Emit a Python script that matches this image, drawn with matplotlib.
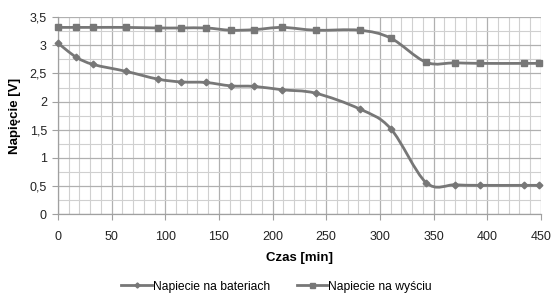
import matplotlib
matplotlib.use("Agg")
import matplotlib.pyplot as plt
import numpy as np
from matplotlib.path import Path
from matplotlib.patches import PathPatch
from matplotlib.lines import Line2D

plt.rcParams['font.family'] = ['Liberation Sans', 'DejaVu Sans']

time_min = [0, 17, 33, 63, 93, 115, 138, 161, 183, 209, 240, 281, 310, 343, 370, 393, 434, 448]
v_battery = [3.04, 2.79, 2.66, 2.54, 2.40, 2.35, 2.34, 2.28, 2.27, 2.21, 2.15, 1.87, 1.52, 0.56, 0.52, 0.51, 0.51, 0.51]
v_output = [3.32, 3.32, 3.32, 3.32, 3.31, 3.31, 3.31, 3.27, 3.28, 3.32, 3.27, 3.27, 3.13, 2.70, 2.69, 2.68, 2.68, 2.68]
series_names = ["Napiecie na bateriach", "Napiecie na wyściu"]
x_ticks = [0, 50, 100, 150, 200, 250, 300, 350, 400, 450]
y_ticks = [0, 0.5, 1, 1.5, 2, 2.5, 3, 3.5]
y_tick_labels = ["0", "0,5", "1", "1,5", "2", "2,5", "3", "3,5"]
x_label = "Czas [min]"
y_label = "Napięcie [V]"

COLOR = "#777777"

fig = plt.figure(figsize=(5.53, 2.93), dpi=100)
ax = fig.add_axes([0.1049, 0.2696, 0.978 - 0.1049, 0.941 - 0.2696])


def smooth_path(xs, ys):
    pts = np.column_stack([xs, ys]).astype(float)
    n = len(pts)
    verts = [pts[0]]
    codes = [Path.MOVETO]
    for i in range(n - 1):
        p0 = pts[i - 1] if i > 0 else pts[i]
        p1 = pts[i]
        p2 = pts[i + 1]
        p3 = pts[i + 2] if i + 2 < n else pts[i + 1]
        c1 = p1 + (p2 - p0) / 6.0
        c2 = p2 - (p3 - p1) / 6.0
        verts += [c1, c2, p2]
        codes += [Path.CURVE4] * 3
    return Path(verts, codes)


for ys, marker, ms in [(v_battery, 'D', 3.4), (v_output, 's', 5.0)]:
    patch = PathPatch(smooth_path(time_min, ys), facecolor='none', edgecolor=COLOR,
                      linewidth=2.0, zorder=3, capstyle='round', joinstyle='round')
    ax.add_patch(patch)
    ax.plot(time_min, ys, linestyle='none', marker=marker, markersize=ms,
            color=COLOR, zorder=4, clip_on=False)

ax.set_xlim(0, 450)
ax.set_ylim(0, 3.5)
ax.set_xticks(x_ticks)
ax.set_yticks(y_ticks)
ax.set_yticklabels(y_tick_labels)
ax.set_xticks(np.arange(0, 451, 10), minor=True)
ax.set_yticks(np.arange(0, 3.51, 0.25), minor=True)
ax.grid(which='minor', color='#d0d0d0', linewidth=0.8)
ax.grid(which='major', color='#b0b0b0', linewidth=0.9)
ax.set_axisbelow(True)
ax.tick_params(which='minor', length=0)
ax.tick_params(which='major', length=4, color='#a0a0a0', labelsize=9, labelcolor='#222222')
ax.tick_params(axis='x', pad=8)
ax.tick_params(axis='y', pad=4)
for s in ['top', 'right']:
    ax.spines[s].set_visible(False)
for s in ['left', 'bottom']:
    ax.spines[s].set_color('#a0a0a0')
    ax.spines[s].set_linewidth(0.9)

ax.set_xlabel(x_label, fontsize=9.5, fontweight='bold', labelpad=7)
ax.set_ylabel(y_label, fontsize=9.5, fontweight='bold', labelpad=6)

handles = [Line2D([], [], color=COLOR, linewidth=2.0, marker='D', markersize=2.6),
           Line2D([], [], color=COLOR, linewidth=2.0, marker='s', markersize=3.6)]
fig.legend(handles, series_names, loc='center', bbox_to_anchor=(0.5, 0.022), ncol=2,
           frameon=False, fontsize=8.7, handlelength=2.5, handletextpad=0.1,
           columnspacing=2.2)

fig.savefig("out.png", dpi=100)
